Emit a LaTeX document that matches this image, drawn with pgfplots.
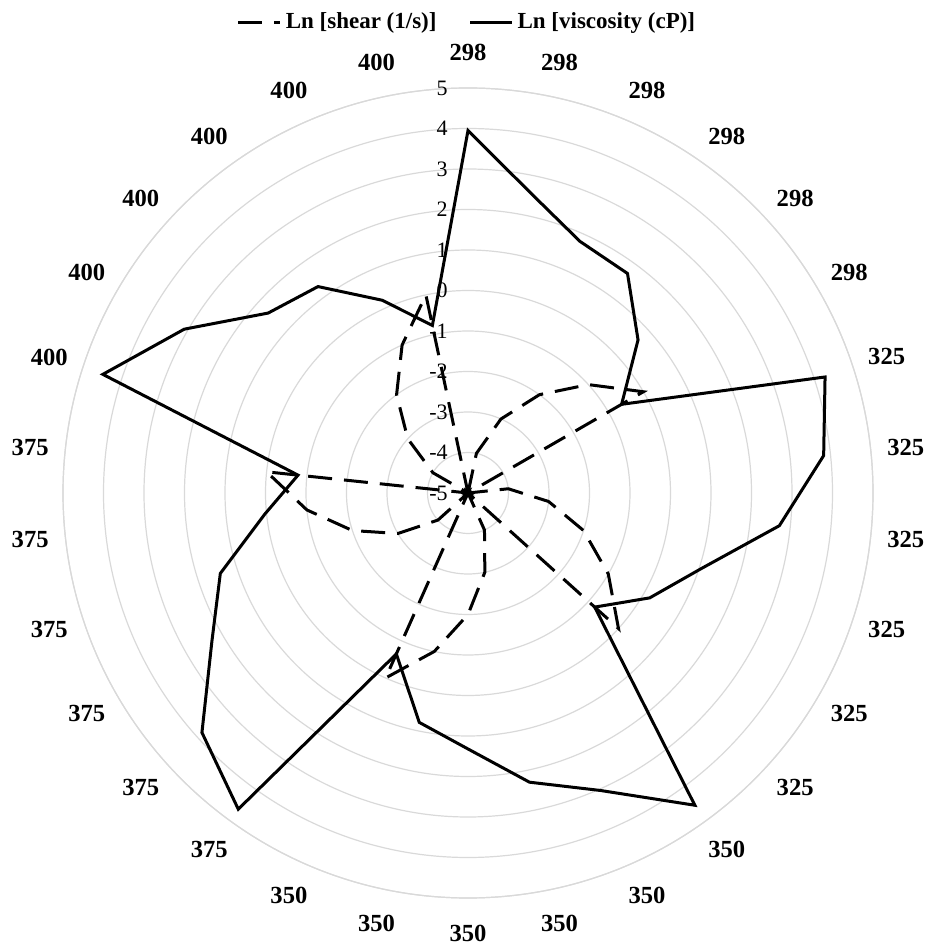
\documentclass[border=0pt]{standalone}
\usepackage{fontspec}
\setmainfont{Liberation Serif}
\usepackage{pgfplots}
\pgfplotsset{compat=1.18}
\usepackage{pgfplotstable}
\usepgfplotslibrary{polar}
\definecolor{gridgray}{RGB}{217,217,217}

\pgfplotstableread{
idx ang temp shear visc
0 90 298 -5 3.95
1 78 298 -4 2.55
2 66 298 -3 1.80
3 54 298 -2 1.70
4 42 298 -1 0.65
5 30 298 0 -0.62
6 18 325 -5 4.27
7 6 325 -4 3.83
8 354 325 -3 2.73
9 342 325 -2 1.05
10 330 325 -1 0.18
11 318 325 0 -0.79
12 306 350 -5 4.53
13 294 350 -4 3.04
14 282 350 -3 2.30
15 270 350 -2 1.32
16 258 350 -1 0.79
17 246 350 0 -0.65
18 234 375 -5 4.65
19 222 375 -4 3.84
20 210 375 -3 2.30
21 198 375 -2 1.43
22 186 375 -1 0.05
23 174 375 0 -0.78
24 162 400 -5 4.48
25 150 400 -4 3.09
26 138 400 -3 1.64
27 126 400 -2 1.30
28 114 400 -1 0.21
29 102 400 0 -0.77
}\radardata

\begin{document}
\begin{tikzpicture}
\begin{polaraxis}[
  width=405pt, height=405pt, scale only axis,
  xmin=0, xmax=360, ymin=0, ymax=10,
  xtick=\empty,
  ytick={0,1,2,3,4,5,6,7,8,9,10}, yticklabels={,,},
  xmajorgrids=false, ymajorgrids=true,
  y grid style={gridgray, line width=0.6pt},
  separate axis lines,
  x axis line style={gridgray, line width=0.6pt},
  y axis line style={draw=none},
  tick style={draw=none},
  clip=false,
  legend style={at={(0.5,1)}, anchor=south, yshift=26pt, xshift=0pt, draw=none, fill=none,
    legend columns=2, font=\fontsize{11.5}{13}\selectfont\bfseries,
    /tikz/every even column/.append style={column sep=14pt},
    inner sep=0pt},
  legend image code/.code={\draw[#1] (0pt,0pt) -- (21pt,0pt);},
]
\addplot[black, line width=1.5pt, dash pattern=on 12pt off 6pt, line join=miter]
  table[x=ang, y expr=\thisrow{shear}+5] {\radardata} -- cycle;
\addlegendentry{Ln [shear (1/s)]}
\addplot[black, line width=1.5pt, line join=miter]
  table[x=ang, y expr=\thisrow{visc}+5] {\radardata} -- cycle;
\addlegendentry{Ln [viscosity (cP)]}
\coordinate (C) at (axis cs:0,0);
\begin{scope}[every node/.style={anchor=east, inner sep=0pt, xshift=-10pt, font=\fontsize{11}{13}\selectfont}]
\node at (axis cs:90,10) {5};
\node at (axis cs:90,9) {4};
\node at (axis cs:90,8) {3};
\node at (axis cs:90,7) {2};
\node at (axis cs:90,6) {1};
\node at (axis cs:90,5) {0};
\node at (axis cs:90,4) {-1};
\node at (axis cs:90,3) {-2};
\node at (axis cs:90,2) {-3};
\node at (axis cs:90,1) {-4};
\node at (axis cs:90,0) {-5};
\end{scope}
\begin{scope}[every node/.style={anchor=center, inner sep=0pt, font=\fontsize{12.3}{14}\selectfont\bfseries}]
\node at (axis cs:90,10.87) {298};
\node at (axis cs:78,10.87) {298};
\node at (axis cs:66,10.87) {298};
\node at (axis cs:54,10.87) {298};
\node at (axis cs:42,10.87) {298};
\node at (axis cs:30,10.87) {298};
\node at (axis cs:18,10.87) {325};
\node at (axis cs:6,10.87) {325};
\node at (axis cs:354,10.87) {325};
\node at (axis cs:342,10.87) {325};
\node at (axis cs:330,10.87) {325};
\node at (axis cs:318,10.87) {325};
\node at (axis cs:306,10.87) {350};
\node at (axis cs:294,10.87) {350};
\node at (axis cs:282,10.87) {350};
\node at (axis cs:270,10.87) {350};
\node at (axis cs:258,10.87) {350};
\node at (axis cs:246,10.87) {350};
\node at (axis cs:234,10.87) {375};
\node at (axis cs:222,10.87) {375};
\node at (axis cs:210,10.87) {375};
\node at (axis cs:198,10.87) {375};
\node at (axis cs:186,10.87) {375};
\node at (axis cs:174,10.87) {375};
\node at (axis cs:162,10.87) {400};
\node at (axis cs:150,10.87) {400};
\node at (axis cs:138,10.87) {400};
\node at (axis cs:126,10.87) {400};
\node at (axis cs:114,10.87) {400};
\node at (axis cs:102,10.87) {400};
\end{scope}
\end{polaraxis}
\pgfresetboundingbox
\path[use as bounding box] (C) ++(-234pt,-227pt) rectangle ++(466.5pt,473.5pt);
\end{tikzpicture}
\end{document}
